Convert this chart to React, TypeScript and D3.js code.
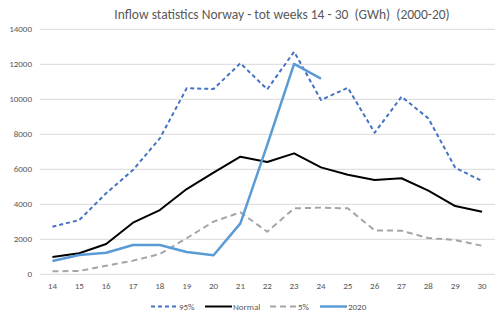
import React from "react";
import * as d3 from "d3";

const weeks = [14, 15, 16, 17, 18, 19, 20, 21, 22, 23, 24, 25, 26, 27, 28, 29, 30];
const p95 = [2720, 3100, 4630, 5960, 7770, 10630, 10590, 12060, 10570, 12720, 9960, 10660, 8090, 10150, 8910, 6090, 5330];
const normal = [990, 1200, 1730, 2950, 3670, 4870, 5810, 6720, 6420, 6910, 6110, 5690, 5390, 5490, 4780, 3900, 3580];
const p5 = [170, 190, 490, 780, 1160, 2060, 3010, 3540, 2430, 3770, 3810, 3770, 2510, 2490, 2070, 1960, 1630];
const y2020 = [760, 1100, 1230, 1670, 1670, 1270, 1090, 2910, 7400, 12020, 11180];
const yTicks = [0, 2000, 4000, 6000, 8000, 10000, 12000, 14000];
const title = "Inflow statistics Norway - tot weeks 14 - 30  (GWh)  (2000-20)";

const series = [
  { name: "95%", values: p95, color: "#4472C4", width: 2, dash: "4,3" },
  { name: "Normal", values: normal, color: "#000000", width: 2, dash: "" },
  { name: "5%", values: p5, color: "#A5A5A5", width: 2, dash: "6,4" },
  { name: "2020", values: y2020, color: "#5B9BD5", width: 2.5, dash: "" },
];

export default function App() {
  const W = 500, H = 333;
  const left = 39, right = 495.5, top = 29.3, bottom = 274.3;
  const x = d3.scaleBand<number>().domain(weeks).range([left, right]);
  const y = d3.scaleLinear().domain([0, 14000]).range([bottom, top]);
  const cx = (w: number) => (x(w) as number) + x.bandwidth() / 2;
  const line = d3.line<number>().x((_, i) => cx(weeks[i])).y((v) => y(v));
  const font = "Calibri, 'Liberation Sans', 'Open Sans', Arial, sans-serif";
  const legendX = [151, 205, 270, 320];
  return (
    <svg width={W} height={H} style={{ position: "absolute", left: 0, top: 0, background: "#fff" }} fontFamily={font}>
      <rect width={W} height={H} fill="#fff" />
      <text x={282} y={19} textAnchor="middle" fontSize={13.5} fill="#595959" style={{ whiteSpace: "pre" }}>{title}</text>
      {yTicks.map((t) => (
        <g key={t}>
          <line x1={40} x2={495} y1={y(t)} y2={y(t)} stroke="#D9D9D9" strokeWidth={1} />
          <text x={32} y={y(t) + 3} textAnchor="end" fontSize={9} fill="#595959">{t}</text>
        </g>
      ))}
      {weeks.map((w) => (
        <text key={w} x={cx(w)} y={289} textAnchor="middle" fontSize={9} fill="#595959">{w}</text>
      ))}
      {series.map((s) => (
        <path key={s.name} d={line(s.values) || ""} fill="none" stroke={s.color} strokeWidth={s.width}
          strokeDasharray={s.dash || undefined} strokeLinejoin="round" />
      ))}
      {series.map((s, i) => (
        <g key={s.name}>
          <line x1={legendX[i]} x2={legendX[i] + 27} y1={306.5} y2={306.5} stroke={s.color} strokeWidth={s.width}
            strokeDasharray={s.dash || undefined} />
          <text x={legendX[i] + 28} y={309.5} fontSize={9} fill="#595959">{s.name}</text>
        </g>
      ))}
    </svg>
  );
}
